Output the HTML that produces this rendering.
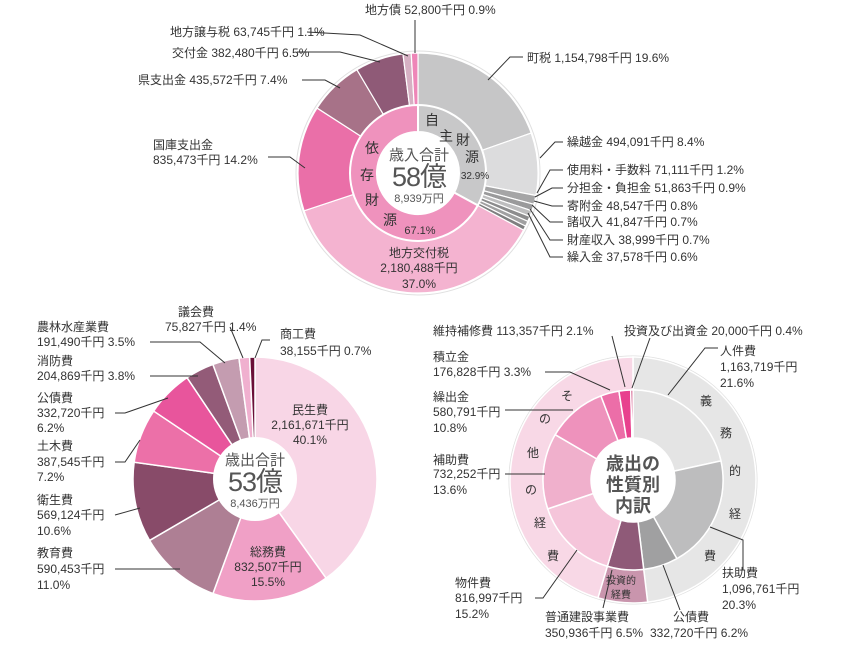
<!DOCTYPE html>
<html><head><meta charset="utf-8"><style>
body{margin:0;background:#fff}
svg{display:block;font-family:"Liberation Sans","Noto Sans CJK JP",sans-serif}
text{fill:#333;font-size:12px}
.c{text-anchor:middle}
</style></head><body>
<svg id="s" width="862" height="646" viewBox="0 0 862 646" xmlns="http://www.w3.org/2000/svg">
<g id="pies"></g>
<g fill="none" stroke="#333" stroke-width="1">
<polyline points="415,20 415,53"/>
<polyline points="307,32 360,35 408,56"/>
<polyline points="297,52 340,52 380,62"/>
<polyline points="302,80 325,80 340,88"/>
<polyline points="268,157 290,157 305,168"/>
<polyline points="523,57 510,57 488,80"/>
<polyline points="563,142 555,142 540,158"/>
<polyline points="563,170 550,170 537,193"/>
<polyline points="563,188 552,188 535,197"/>
<polyline points="563,206 552,206 534,201"/>
<polyline points="563,222 550,222 532,205"/>
<polyline points="563,240 550,240 530,209"/>
<polyline points="563,257 550,257 528,213"/>
<polyline points="230,327 243,358"/>
<polyline points="270,340 262,340 255,358"/>
<polyline points="150,342 200,342 225,363"/>
<polyline points="150,376 198,376"/>
<polyline points="115,413 125,413 168,398"/>
<polyline points="115,462 125,462 140,440"/>
<polyline points="115,515 140,508"/>
<polyline points="115,569 180,569"/>
<polyline points="612,336 625,387"/>
<polyline points="650,338 632,388"/>
<polyline points="545,372 570,372 610,390"/>
<polyline points="505,410 573,410"/>
<polyline points="505,474 545,474"/>
<polyline points="535,598 543,598 577,550"/>
<polyline points="603,608 612,570"/>
<polyline points="680,610 663,565"/>
<polyline points="743,570 743,540 710,527"/>
<polyline points="718,348 705,348 668,395"/>
</g>
<text x="365" y="14">地方債 52,800千円 0.9%</text>
<text x="170" y="36">地方譲与税 63,745千円 1.1%</text>
<text x="172" y="57">交付金 382,480千円 6.5%</text>
<text x="138" y="84">県支出金 435,572千円 7.4%</text>
<text x="153" y="149">国庫支出金</text>
<text x="153" y="164">835,473千円 14.2%</text>
<text x="527" y="62">町税 1,154,798千円 19.6%</text>
<text x="567" y="146">繰越金 494,091千円 8.4%</text>
<text x="567" y="174">使用料・手数料 71,111千円 1.2%</text>
<text x="567" y="192">分担金・負担金 51,863千円 0.9%</text>
<text x="567" y="210">寄附金 48,547千円 0.8%</text>
<text x="567" y="226">諸収入 41,847千円 0.7%</text>
<text x="567" y="244">財産収入 38,999千円 0.7%</text>
<text x="567" y="261">繰入金 37,578千円 0.6%</text>
<text x="432" y="125" class="c" style="font-size:14px">自</text>
<text x="446" y="141" class="c" style="font-size:14px">主</text>
<text x="463" y="145" class="c" style="font-size:14px">財</text>
<text x="472" y="162" class="c" style="font-size:14px">源</text>
<text x="475" y="179" class="c" style="font-size:10px">32.9%</text>
<text x="372" y="153" class="c" style="font-size:14px">依</text>
<text x="367" y="180" class="c" style="font-size:14px">存</text>
<text x="372" y="205" class="c" style="font-size:14px">財</text>
<text x="390" y="225" class="c" style="font-size:14px">源</text>
<text x="420" y="234" class="c" style="font-size:11px">67.1%</text>
<text x="419" y="160" class="c" style="font-size:15px;fill:#555">歳入合計</text>
<text x="419" y="186" class="c" style="font-size:27px;fill:#555;letter-spacing:-1px">58億</text>
<text x="419" y="202" class="c" style="font-size:11px;fill:#555">8,939万円</text>
<text x="419" y="257" class="c">地方交付税</text>
<text x="419" y="272" class="c">2,180,488千円</text>
<text x="419" y="288" class="c">37.0%</text>
<text x="178" y="316">議会費</text>
<text x="165" y="331">75,827千円 1.4%</text>
<text x="280" y="338">商工費</text>
<text x="280" y="355">38,155千円 0.7%</text>
<text x="37" y="331">農林水産業費</text>
<text x="37" y="346">191,490千円 3.5%</text>
<text x="37" y="365">消防費</text>
<text x="37" y="380">204,869千円 3.8%</text>
<text x="37" y="402">公債費</text>
<text x="37" y="417">332,720千円</text>
<text x="37" y="432">6.2%</text>
<text x="37" y="450">土木費</text>
<text x="37" y="466">387,545千円</text>
<text x="37" y="481">7.2%</text>
<text x="37" y="504">衛生費</text>
<text x="37" y="519">569,124千円</text>
<text x="37" y="535">10.6%</text>
<text x="37" y="557">教育費</text>
<text x="37" y="573">590,453千円</text>
<text x="37" y="589">11.0%</text>
<text x="310" y="414" class="c">民生費</text>
<text x="310" y="429" class="c">2,161,671千円</text>
<text x="310" y="444" class="c">40.1%</text>
<text x="268" y="556" class="c">総務費</text>
<text x="268" y="571" class="c">832,507千円</text>
<text x="268" y="586" class="c">15.5%</text>
<text x="255" y="465" class="c" style="font-size:15px;fill:#555">歳出合計</text>
<text x="255" y="491" class="c" style="font-size:27px;fill:#555;letter-spacing:-1px">53億</text>
<text x="255" y="507" class="c" style="font-size:11px;fill:#555">8,436万円</text>
<text x="433" y="335">維持補修費 113,357千円 2.1%</text>
<text x="624" y="335">投資及び出資金 20,000千円 0.4%</text>
<text x="433" y="361">積立金</text>
<text x="433" y="376">176,828千円 3.3%</text>
<text x="433" y="401">繰出金</text>
<text x="433" y="416">580,791千円</text>
<text x="433" y="432">10.8%</text>
<text x="433" y="464">補助費</text>
<text x="433" y="478">732,252千円</text>
<text x="433" y="494">13.6%</text>
<text x="455" y="587">物件費</text>
<text x="455" y="602">816,997千円</text>
<text x="455" y="618">15.2%</text>
<text x="545" y="621">普通建設事業費</text>
<text x="545" y="637">350,936千円 6.5%</text>
<text x="673" y="621">公債費</text>
<text x="650" y="637">332,720千円 6.2%</text>
<text x="722" y="577">扶助費</text>
<text x="722" y="593">1,096,761千円</text>
<text x="722" y="609">20.3%</text>
<text x="720" y="355">人件費</text>
<text x="720" y="371">1,163,719千円</text>
<text x="720" y="387">21.6%</text>
<g style="font-size:13px">
<text x="706" y="405" class="c">義</text><text x="726" y="437" class="c">務</text><text x="735" y="475" class="c">的</text><text x="735" y="518" class="c">経</text><text x="710" y="560" class="c">費</text>
<text x="567" y="400" class="c">そ</text><text x="545" y="423" class="c">の</text><text x="533" y="457" class="c">他</text><text x="531" y="494" class="c">の</text><text x="540" y="527" class="c">経</text><text x="553" y="560" class="c">費</text>
</g>
<text x="621" y="584" class="c" style="font-size:10px">投資的</text>
<text x="621" y="598" class="c" style="font-size:10px">経費</text>
<text x="633" y="470" class="c" style="font-size:18px;fill:#555;font-weight:bold">歳出の</text>
<text x="633" y="491" class="c" style="font-size:18px;fill:#555;font-weight:bold">性質別</text>
<text x="633" y="512" class="c" style="font-size:18px;fill:#555;font-weight:bold">内訳</text>
</svg>
<script>
var g=document.getElementById('pies');
function arc(cx,cy,r0,r1,a0,a1,fill,sw){
 function p(r,a){a=(a*3.6-90)*Math.PI/180;return [cx+r*Math.cos(a),cy+r*Math.sin(a)];}
 var l=(a1-a0)>50?1:0,A=p(r1,a0),B=p(r1,a1),C=p(r0,a1),D=p(r0,a0);
 var d='M'+A+'A'+r1+','+r1+' 0 '+l+' 1 '+B+'L'+C+'A'+r0+','+r0+' 0 '+l+' 0 '+D+'Z';
 var e=document.createElementNS('http://www.w3.org/2000/svg','path');
 e.setAttribute('d',d);e.setAttribute('fill',fill);e.setAttribute('stroke','#fff');e.setAttribute('stroke-width',sw||1.2);g.appendChild(e);
}
function pie(cx,cy,r0,r1,vals,cols,sw){var a=0;for(var i=0;i<vals.length;i++){arc(cx,cy,r0,r1,a,a+vals[i],cols[i],sw);a+=vals[i];}}
function circ(cx,cy,r,f,s){var e=document.createElementNS('http://www.w3.org/2000/svg','circle');e.setAttribute('cx',cx);e.setAttribute('cy',cy);e.setAttribute('r',r);e.setAttribute('fill',f);if(s){e.setAttribute('stroke',s);}g.appendChild(e);}
circ(418,173,122,'#fff','#e0e0e0');
pie(418,173,68,120,[19.6,8.4,1.2,0.9,0.8,0.7,0.7,0.6,37.0,14.2,7.4,6.5,1.1,0.9],
 ['#c6c6c7','#dcdcdd','#a5a5a6','#9a9a9b','#bdbdbe','#8c8c8d','#a0a0a1','#7f7f80','#f4b3d0','#ea6fa8','#a77288','#8f5a77','#d6b0c3','#ee86b8']);
pie(418,173,41,68,[32.9,67.1],['#c8c8c9','#ef92bd'],2);
circ(418,173,41,'#fff');
pie(255,479,40,122,[40.1,15.5,11.0,10.6,7.2,6.2,3.8,3.5,1.4,0.7],
 ['#f8d6e6','#f0a0c6','#ae7f94','#884b69','#ec70a8','#e8559c','#935b78','#c49cb0','#f0b0cf','#6a1038'],1.5);
circ(255,479,42,'#fff');
circ(633,480,124,'#fff','#e0e0e0');
pie(633,480,90,123,[48.1,6.5,45.4],['#e6e6e6','#c995ad','#f8d8e6'],1.5);
pie(633,480,42,90,[21.6,20.3,6.2,6.5,15.2,13.6,10.8,3.3,2.1,0.4],
 ['#e4e4e4','#bdbdbe','#a0a0a1','#8f5a78','#f5c5da','#f0b0cc','#ee92bc','#ec6ea8','#e8408e','#c0185c'],1.5);
circ(633,480,42,'#fff');
</script>
</body></html>
